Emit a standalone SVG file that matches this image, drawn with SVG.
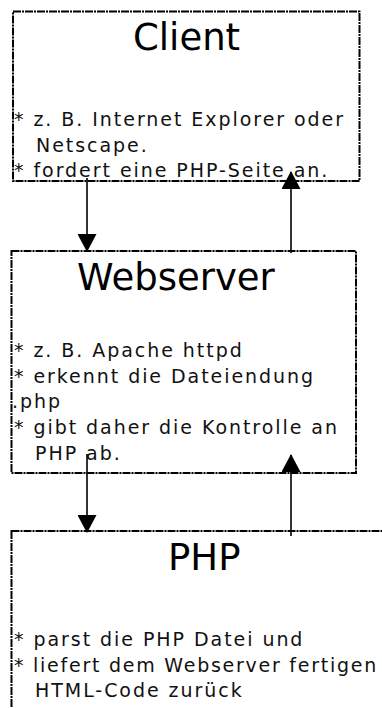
<svg xmlns="http://www.w3.org/2000/svg" width="382" height="708" viewBox="0 0 382 708">
  <style>
    .box { fill: #ffffff; stroke: #000000; stroke-width: 2; stroke-dasharray: 8 1 2 1; }
    .title { font-family: "DejaVu Sans", Verdana, sans-serif; font-size: 37px; fill: #000000; }
    .body { font-family: "DejaVu Sans", Verdana, sans-serif; font-size: 19px; letter-spacing: 1.95px; fill: #111111; }
    .conn { stroke: #000000; stroke-width: 1.6; fill: none; marker-end: url(#arrow); }
  </style>
  <defs>
    <marker id="arrow" markerUnits="userSpaceOnUse" markerWidth="19" markerHeight="19" viewBox="0 0 18 19" refX="17" refY="9.5" orient="auto">
      <path d="M0,0 L18,9.5 L0,19 z" fill="#000000"/>
    </marker>
  </defs>
  <rect width="382" height="708" fill="#ffffff"/>

  <g id="client">
    <rect class="box" x="13" y="11.5" width="346.5" height="169.5"/>
    <text class="title" x="133" y="50">Client</text>
    <text class="body" x="14" y="126">* z. B. Internet Explorer oder</text>
    <text class="body" x="36" y="152">Netscape.</text>
    <text class="body" x="14" y="177">* fordert eine PHP-Seite an.</text>
  </g>

  <g id="webserver">
    <rect class="box" x="11.5" y="251" width="344.5" height="222"/>
    <text class="title" x="77" y="290">Webserver</text>
    <text class="body" x="14" y="357">* z. B. Apache httpd</text>
    <text class="body" x="14" y="383">* erkennt die Dateiendung</text>
    <text class="body" x="12" y="408">.php</text>
    <text class="body" x="14" y="434">* gibt daher die Kontrolle an</text>
    <text class="body" x="35" y="460">PHP ab.</text>
  </g>

  <g id="php">
    <rect class="box" x="11.5" y="531" width="380" height="200"/>
    <text class="title" x="168" y="570">PHP</text>
    <text class="body" x="14" y="646">* parst die PHP Datei und</text>
    <text class="body" x="14" y="672" style="letter-spacing:1.75px">* liefert dem Webserver fertigen</text>
    <text class="body" x="35" y="697">HTML-Code zurück</text>
  </g>

  <g id="connectors">
    <line class="conn" x1="87" y1="178" x2="87" y2="251"/>
    <line class="conn" x1="291" y1="253" x2="291" y2="172"/>
    <line class="conn" x1="87" y1="454" x2="87" y2="532"/>
    <line class="conn" x1="291" y1="536" x2="291" y2="455"/>
  </g>
</svg>
